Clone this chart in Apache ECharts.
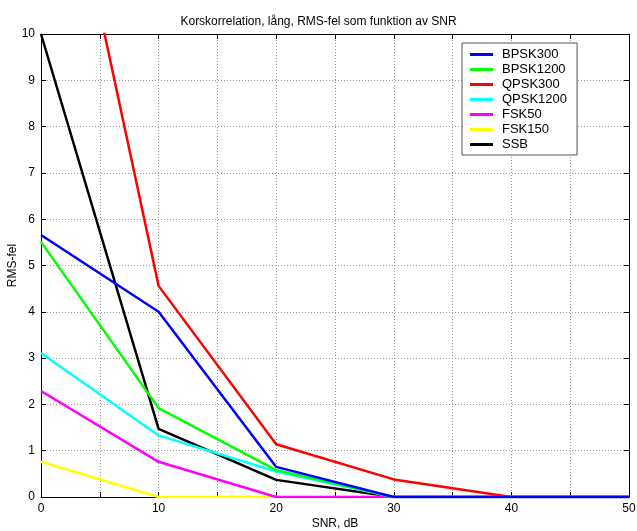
<!DOCTYPE html>
<html>
<head>
<meta charset="utf-8">
<script src="https://cdn.jsdelivr.net/npm/echarts@6/dist/echarts.min.js"></script>
<style>html,body{margin:0;padding:0;background:#fff}#c{width:637px;height:531px}</style>
</head>
<body>
<div id="c"></div>
<script>
var snr = [0, 10, 20, 30, 40, 50];
var seriesNames = ['BPSK300', 'BPSK1200', 'QPSK300', 'QPSK1200', 'FSK50', 'FSK150', 'SSB'];
var colors = ['#0000ff', '#00ff00', '#ff0000', '#00ffff', '#ff00ff', '#ffff00', '#000000'];
var bpsk300 = [5.66, 4.0, 0.65, 0, 0, 0];
var bpsk1200 = [5.51, 1.92, 0.58, 0, 0, 0];
var qpsk300 = [16.4, 4.56, 1.14, 0.38, 0, 0];
var qpsk1200 = [3.11, 1.33, 0.55, 0, 0, 0];
var fsk50 = [2.29, 0.76, 0, 0, 0, 0];
var fsk150 = [0.76, 0, 0, 0, 0, 0];
var ssb = [10, 1.47, 0.37, 0, 0, 0];
var allData = [bpsk300, bpsk1200, qpsk300, qpsk1200, fsk50, fsk150, ssb];

var font = 'Arial, "Liberation Sans", Helvetica, sans-serif';
var chart = echarts.init(document.getElementById('c'));
function pairs(arr) { return arr.map(function (v, i) { return [snr[i], v]; }); }
var series = seriesNames.map(function (n, i) {
  return {
    name: n, type: 'line', data: pairs(allData[i]), showSymbol: false, symbol: 'none',
    clip: true, lineStyle: { color: colors[i], width: 2.5 }, itemStyle: { color: colors[i] },
    z: 10 - i
  };
});
var axisCommon = {
  axisLine: { show: true, onZero: false, lineStyle: { color: '#000', width: 1 } },
  axisTick: { show: true, inside: true, length: 5, lineStyle: { color: '#000' } }
};
chart.setOption({
  animation: false,
  title: { text: 'Korskorrelation, lång, RMS-fel som funktion av SNR', left: 'center', top: 11,
    textStyle: { fontFamily: font, fontSize: 12, fontWeight: 'normal', color: '#000' } },
  grid: { left: 41, right: 8, top: 34, bottom: 34, outerBoundsMode: 'none', containLabel: false },
  legend: {
    orient: 'vertical', left: 462, top: 43, data: seriesNames, icon: 'rect',
    itemWidth: 23, itemHeight: 3, itemGap: 2, padding: [5, 10, 4, 8],
    backgroundColor: '#fff', borderColor: '#555', borderWidth: 1, borderRadius: 0,
    textStyle: { fontFamily: font, fontSize: 13, color: '#000', padding: [0, 0, 0, 4], lineHeight: 13 }
  },
  xAxis: [
    Object.assign({
      type: 'value', min: 0, max: 50, interval: 5, position: 'bottom',
      name: 'SNR, dB', nameLocation: 'middle', nameGap: 21, nameMoveOverlap: false,
      nameTextStyle: { fontFamily: font, fontSize: 12, color: '#000' },
      axisLabel: { fontFamily: font, fontSize: 12, color: '#000', margin: 6,
        formatter: function (v) { return v % 10 === 0 ? String(v) : ''; } },
      splitLine: { show: true, lineStyle: { type: [1, 2], color: '#999' } }
    }, axisCommon),
    Object.assign({
      type: 'value', min: 0, max: 50, interval: 5, position: 'top',
      axisLabel: { show: false }, splitLine: { show: false }
    }, axisCommon)
  ],
  yAxis: [
    Object.assign({
      type: 'value', min: 0, max: 10, interval: 1, position: 'left',
      name: 'RMS-fel', nameLocation: 'middle', nameGap: 22, nameRotate: 90, nameMoveOverlap: false,
      nameTextStyle: { fontFamily: font, fontSize: 12, color: '#000' },
      axisLabel: { fontFamily: font, fontSize: 12, color: '#000', margin: 6 },
      splitLine: { show: true, lineStyle: { type: [1, 2], color: '#999' } }
    }, axisCommon),
    Object.assign({
      type: 'value', min: 0, max: 10, interval: 1, position: 'right',
      axisLabel: { show: false }, splitLine: { show: false }
    }, axisCommon)
  ],
  series: series
});
</script>
</body>
</html>
